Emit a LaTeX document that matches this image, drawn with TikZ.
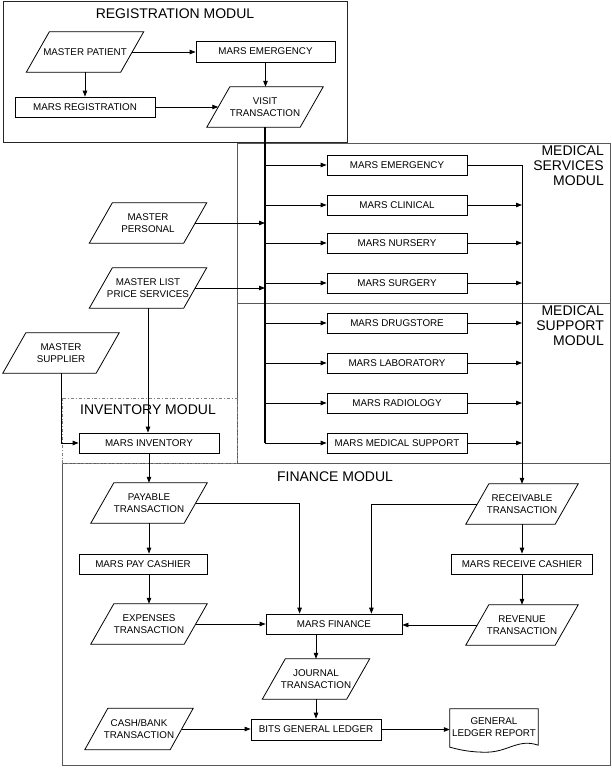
\documentclass[tikz,border=0pt]{standalone}
\usepackage{fontspec}
\setmainfont{Liberation Sans}
\usetikzlibrary{arrows.meta,calc}
\begin{document}
\begin{tikzpicture}[x=1pt,y=-1pt,
  every node/.style={font=\fontsize{9.8}{12}\selectfont, align=center, inner sep=1pt},
  proc/.style={draw, rectangle, line width=0.8pt, minimum height=20pt},
  data/.style={rectangle, minimum height=40pt, minimum width=#1,
    append after command={\pgfextra{\draw[line width=0.8pt]
      ($(\tikzlastnode.south west)+(-11.5,0)$) -- ($(\tikzlastnode.north west)+(11.5,0)$) --
      ($(\tikzlastnode.north east)+(11.5,0)$) -- ($(\tikzlastnode.south east)+(-11.5,0)$) -- cycle;}}},
  arr/.style={-{Triangle[length=6pt,width=4.5pt]}, line width=0.8pt},
  modbox/.style={draw=black!65, line width=1pt},
  title/.style={font=\fontsize{14}{15}\selectfont}
]
\useasboundingbox (0,0) rectangle (612,768);

% module frames
\draw[modbox, draw=black!85] (3,2) rectangle (347,142);
\draw[modbox] (237,143) rectangle (610,303);
\draw[modbox] (237,303) rectangle (610,463);
\draw[modbox] (62,463) rectangle (610,765);
\draw[draw=black!50, line width=0.8pt, dash dot] (62,398) rectangle (237,463);

% titles
\node[title] (tReg) at (175,14) {REGISTRATION MODUL};
\node[title, anchor=north east, align=right] (tMS) at (605,145) {MEDICAL\\SERVICES\\MODUL};
\node[title, anchor=north east, align=right] (tMSup) at (605,305) {MEDICAL\\SUPPORT\\MODUL};
\node[title] (tInv) at (148,410) {INVENTORY MODUL};
\node[title] (tFin) at (335,477) {FINANCE MODUL};

% registration
\node[data=94pt] (mp) at (85,52) {MASTER PATIENT};
\node[proc, minimum width=139pt, minimum height=21pt] (me) at (265.5,51.5) {MARS EMERGENCY};
\node[proc, minimum width=140pt] (mreg) at (85,107) {MARS REGISTRATION};
\node[data=93pt] (visit) at (265,107) {VISIT\\TRANSACTION};

% medical
\node[proc, minimum width=140pt] (s1) at (397,165) {MARS EMERGENCY};
\node[proc, minimum width=140pt] (s2) at (397,205) {MARS CLINICAL};
\node[proc, minimum width=140pt] (s3) at (397,243) {MARS NURSERY};
\node[proc, minimum width=140pt] (s4) at (397,283) {MARS SURGERY};
\node[proc, minimum width=140pt] (p1) at (397,323) {MARS DRUGSTORE};
\node[proc, minimum width=140pt] (p2) at (397,363) {MARS LABORATORY};
\node[proc, minimum width=140pt] (p3) at (397,403) {MARS RADIOLOGY};
\node[proc, minimum width=140pt] (p4) at (397,443) {MARS MEDICAL SUPPORT};

% masters / inventory
\node[data=94pt] (mpers) at (148,223) {MASTER\\PERSONAL};
\node[data=94pt] (mlist) at (148,288) {MASTER LIST\\PRICE SERVICES};
\node[data=93pt] (msupp) at (61,353) {MASTER\\SUPPLIER};
\node[proc, minimum width=140pt] (minv) at (149,443) {MARS INVENTORY};

% finance
\node[data=93pt] (pay) at (149,503) {PAYABLE\\TRANSACTION};
\node[proc, minimum width=128pt] (pcash) at (143,564) {MARS PAY CASHIER};
\node[data=93pt] (exp) at (149,624) {EXPENSES\\TRANSACTION};
\node[proc, minimum width=136pt] (mfin) at (334,624) {MARS FINANCE};
\node[data=89pt] (recv) at (522,504) {RECEIVABLE\\TRANSACTION};
\node[proc, minimum width=141pt] (rcash) at (522,564) {MARS RECEIVE CASHIER};
\node[data=89pt] (rev) at (522,625) {REVENUE\\TRANSACTION};
\node[data=84pt] (jour) at (316,679) {JOURNAL\\TRANSACTION};
\node[proc, minimum width=130pt, minimum height=21pt] (bits) at (316,729.5) {BITS GENERAL LEDGER};
\node[data=85pt, minimum height=41pt] (cash) at (139,729) {CASH/BANK\\TRANSACTION};
\node[rectangle, minimum width=88pt, minimum height=36pt] (rep) at (494,727) {GENERAL\\LEDGER REPORT};
\draw[line width=0.8pt] (rep.south west) -- (rep.north west) -- (rep.north east) -- (rep.south east)
  .. controls +(-20,-7) and +(22,0) .. ($(rep.south)+(-8,7)$)
  .. controls +(-18,0) and +(8,2) .. ($(rep.south west)+(0,2)$) -- cycle;

% registration connectors
\draw[arr] (mp.east) -- (mp.east -| me.west);
\draw[arr] (mp.south) -- (mp.south |- mreg.north);
\draw[arr] (me.south) -- (me.south |- visit.north);
\draw[arr] (mreg.east) -- (mreg.east -| visit.west);

% main bus
\coordinate (vb) at (visit.center |- p4.west);
\draw[line width=1.5pt] (visit.south) -- (vb);
\draw[arr] (vb) -- (p4.west);
\foreach \n in {s1,s2,s3,s4,p1,p2,p3}{
  \draw[arr] (vb |- \n.west) -- (\n.west);
}
\draw[arr] (mpers.east) -- (mpers.east -| vb);
\draw[arr] (mlist.east) -- (mlist.east -| vb);

% to receivable
\draw[arr] (s1.east) -| (recv.north);
\foreach \n in {s2,s3,s4,p1,p2,p3,p4}{
  \draw[arr] (\n.east) -- (\n.east -| recv.center);
}

% inventory
\draw[arr] (mlist.south) -- (mlist.south |- minv.north);
\draw[arr] (msupp.south) |- (minv.west);
\draw[arr] (minv.south) -- (minv.south |- pay.north);

% finance connectors
\draw[arr] (pay.east) -| ($(mfin.north west)+(34,0)$);
\draw[arr] (recv.west) -| ($(mfin.north east)+(-31,0)$);
\draw[arr] (pay.south) -- (pay.south |- pcash.north);
\draw[arr] (pay.center |- pcash.south) -- (exp.north);
\draw[arr] (exp.east) -- (exp.east -| mfin.west);
\draw[arr] (recv.south) -- (recv.south |- rcash.north);
\draw[arr] (recv.center |- rcash.south) -- (rev.north);
\draw[arr] (rev.west) -- (rev.west -| mfin.east);
\draw[arr] (jour.center |- mfin.south) -- (jour.north);
\draw[arr] (jour.south) -- (jour.south |- bits.north);
\draw[arr] (cash.east) -- (cash.east -| bits.west);
\draw[arr] (bits.east) -- (bits.east -| rep.west);
\end{tikzpicture}
\end{document}
